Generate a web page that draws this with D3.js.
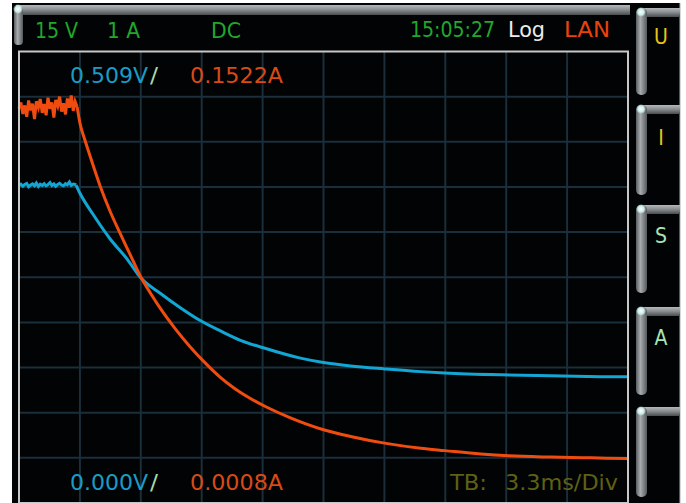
<!DOCTYPE html>
<html>
<head>
<meta charset="utf-8">
<script src="https://cdn.jsdelivr.net/npm/d3@7"></script>
<style>
  body { margin: 0; background: #fff; }
  svg { display: block; }
  text { font-family: "DejaVu Sans", sans-serif; font-stretch: condensed; }
</style>
</head>
<body>
<script>
var width = 686,
    height = 503;

// time base: 3.3 ms/div, 10 divisions
var timeTicks = [0, 3.3, 6.6, 9.9, 13.2, 16.5, 19.8, 23.1, 26.4, 29.7, 33];
var levelTicks = [0, 1, 2, 3, 4, 5, 6, 7, 8, 9, 10];

// flat part before the load step (shared sample times, ms)
var flatMs = [0, 0.10, 0.21, 0.31, 0.42, 0.52, 0.63, 0.73, 0.84, 0.94, 1.05, 1.15, 1.26, 1.36, 1.47,
              1.57, 1.68, 1.78, 1.89, 1.99, 2.10, 2.20, 2.31, 2.41, 2.52, 2.62, 2.73, 2.83, 2.94, 3.04];
var curFlatA = [0.1530, 0.1552, 0.1508, 0.1541, 0.1497, 0.1560, 0.1522, 0.1548, 0.1488, 0.1557,
                0.1533, 0.1566, 0.1512, 0.1546, 0.1503, 0.1571, 0.1528, 0.1553, 0.1494, 0.1562,
                0.1539, 0.1575, 0.1517, 0.1549, 0.1506, 0.1568, 0.1532, 0.1580, 0.1520, 0.1556];
var voltFlatV = [0.5068, 0.5085, 0.5052, 0.5079, 0.5096, 0.5044, 0.5071, 0.5088, 0.5060, 0.5102,
                 0.5049, 0.5083, 0.5066, 0.5094, 0.5057, 0.5077, 0.5110, 0.5063, 0.5089, 0.5051,
                 0.5081, 0.5099, 0.5070, 0.5058, 0.5092, 0.5075, 0.5118, 0.5066, 0.5087, 0.5079];

// decay after the step
var curDecayMs = [3.15, 3.31, 3.58, 3.85, 4.40, 4.94, 5.48, 6.03, 6.57, 7.11, 7.65, 8.47, 9.28, 10.10,
                  10.91, 11.72, 12.54, 13.35, 14.71, 16.50, 17.97, 19.81, 21.77, 23.07, 25.02, 26.54,
                  28.82, 30.99, 33.0];
var curDecayA = [0.1535, 0.1470, 0.1405, 0.1345, 0.1228, 0.1130, 0.1045, 0.0962, 0.0880, 0.0815,
                 0.0755, 0.0675, 0.0605, 0.0542, 0.0487, 0.0442, 0.0405, 0.0374, 0.0330, 0.0284,
                 0.0258, 0.0232, 0.0212, 0.0203, 0.0190, 0.0183, 0.0178, 0.0175, 0.0172];
var voltDecayMs = [3.09, 3.31, 4.02, 4.94, 5.86, 6.57, 7.65, 8.74, 9.82, 10.91, 12.00, 13.24, 15.25,
                   16.50, 17.97, 19.81, 21.77, 23.07, 26.11, 28.82, 31.54, 33.0];
var voltDecayV = [0.5070, 0.4935, 0.4600, 0.4210, 0.3890, 0.3600, 0.3345, 0.3115, 0.2910, 0.2745,
                  0.2595, 0.2475, 0.2310, 0.2240, 0.2185, 0.2138, 0.2095, 0.2075, 0.2045, 0.2028,
                  0.2014, 0.2012];

var x = d3.scaleLinear().domain([0, 33]).range([19, 628]);
var yDiv = d3.scaleLinear().domain([0, 10]).range([503, 51.5]);
var yV = d3.scaleLinear().domain([0, 0.72]).range([503, 51.5]);
var yA = d3.scaleLinear().domain([0, 0.175]).range([503, 51.5]);

var svg = d3.select("body").append("svg")
    .attr("width", width)
    .attr("height", height);

var defs = svg.append("defs");

// gradients for the bevelled soft-key frames
var gv = defs.append("linearGradient").attr("id", "barV").attr("x1", 0).attr("x2", 1).attr("y1", 0).attr("y2", 0);
gv.append("stop").attr("offset", "0%").attr("stop-color", "#5a5e60");
gv.append("stop").attr("offset", "40%").attr("stop-color", "#a8acae");
gv.append("stop").attr("offset", "100%").attr("stop-color", "#56595b");
var gh = defs.append("linearGradient").attr("id", "barH").attr("x1", 0).attr("x2", 0).attr("y1", 0).attr("y2", 1);
gh.append("stop").attr("offset", "0%").attr("stop-color", "#b4b8ba");
gh.append("stop").attr("offset", "45%").attr("stop-color", "#8c9092");
gh.append("stop").attr("offset", "100%").attr("stop-color", "#4a4d4f");
var gl = defs.append("radialGradient").attr("id", "glow");
gl.append("stop").attr("offset", "0%").attr("stop-color", "#ffffff");
gl.append("stop").attr("offset", "60%").attr("stop-color", "#c8ece8");
gl.append("stop").attr("offset", "100%").attr("stop-color", "#c8ece8").attr("stop-opacity", 0);

// screen
svg.append("rect").attr("x", 12).attr("y", 3).attr("width", 668).attr("height", 502).attr("fill", "#020304");
svg.append("line").attr("x1", 680).attr("x2", 680).attr("y1", 3).attr("y2", 503)
    .attr("stroke", "#b0b0b0").attr("stroke-width", 1);

// status bar bevel
svg.append("rect").attr("x", 16).attr("y", 5).attr("width", 614).attr("height", 10).attr("fill", "url(#barH)");
svg.append("rect").attr("x", 14).attr("y", 7).attr("width", 9).attr("height", 38).attr("rx", 4).attr("fill", "url(#barV)");
svg.append("circle").attr("cx", 18).attr("cy", 9).attr("r", 5).attr("fill", "url(#glow)");

// soft keys on the right
var keys = [
    { top: 8, bottom: 95, label: "U", color: "#e8c418", ty: 44 },
    { top: 105, bottom: 195, label: "I", color: "#e8c418", ty: 145 },
    { top: 205, bottom: 293, label: "S", color: "#a8e4b4", ty: 243 },
    { top: 307, bottom: 395, label: "A", color: "#a8e4b4", ty: 345 },
    { top: 407, bottom: 497, label: "", color: "#a8e4b4", ty: 445 }
];
var key = svg.selectAll(".key").data(keys).enter().append("g").attr("class", "key");
key.append("rect").attr("x", 640).attr("y", function (d) { return d.top; })
    .attr("width", 40).attr("height", 9).attr("fill", "url(#barH)");
key.append("rect").attr("x", 636).attr("y", function (d) { return d.top; })
    .attr("width", 11).attr("height", function (d) { return d.bottom - d.top; })
    .attr("rx", 5).attr("fill", "url(#barV)");
key.append("circle").attr("cx", 641).attr("cy", function (d) { return d.top + 4; })
    .attr("r", 5).attr("fill", "url(#glow)");
key.append("text").attr("x", 661).attr("y", function (d) { return d.ty; })
    .attr("text-anchor", "middle").attr("font-size", 21)
    .attr("fill", function (d) { return d.color; })
    .text(function (d) { return d.label; });

// grid
var grid = svg.append("g").attr("stroke", "#1a2e3b").attr("stroke-width", 2);
grid.selectAll(".vx").data(timeTicks.slice(1, 10)).enter().append("line")
    .attr("x1", function (d) { return x(d); }).attr("x2", function (d) { return x(d); })
    .attr("y1", yDiv(10)).attr("y2", yDiv(0));
grid.selectAll(".hy").data(levelTicks.slice(1, 10)).enter().append("line")
    .attr("y1", function (d) { return yDiv(d); }).attr("y2", function (d) { return yDiv(d); })
    .attr("x1", x(0)).attr("x2", x(33));

// traces: noisy plateau drawn straight, decay smoothed
function trace(flatVals, decMs, decVals, yScale, color) {
    var flat = flatMs.map(function (t, i) { return [t, flatVals[i]]; });
    var dec = decMs.map(function (t, i) { return [t, decVals[i]]; });
    var g = svg.append("g").attr("fill", "none").attr("stroke", color).attr("stroke-width", 3);
    g.append("path").datum(flat.concat([dec[0]]))
        .attr("d", d3.line().x(function (d) { return x(d[0]); }).y(function (d) { return yScale(d[1]); }));
    g.append("path").datum(dec)
        .attr("d", d3.line().curve(d3.curveMonotoneX)
            .x(function (d) { return x(d[0]); }).y(function (d) { return yScale(d[1]); }));
}
trace(voltFlatV, voltDecayMs, voltDecayV, yV, "#12a6d4");
trace(curFlatA, curDecayMs, curDecayA, yA, "#f04c10");

// frame
svg.append("rect").attr("x", x(0)).attr("y", yDiv(10)).attr("width", x(33) - x(0))
    .attr("height", yDiv(0) - yDiv(10)).attr("fill", "none")
    .attr("stroke", "#c8c8c8").attr("stroke-width", 2);

// texts
var labels = [
    { t: "15 V", x: 35, y: 38, w: 43, c: "#20a82c" },
    { t: "1 A", x: 107, y: 38, w: 33, c: "#20a82c" },
    { t: "DC", x: 211, y: 38, w: 30, c: "#20a82c" },
    { t: "15:05:27", x: 410, y: 37, w: 85, c: "#20a82c" },
    { t: "Log", x: 508, y: 37, w: 37, c: "#ececec" },
    { t: "LAN", x: 564, y: 37, w: 46, c: "#e8420e" },
    { t: "0.509V", x: 70, y: 83, w: 78, c: "#1a9cc6" },
    { t: "/", x: 150, y: 83, w: 8, c: "#a6d8a6" },
    { t: "0.1522A", x: 190, y: 83, w: 93, c: "#d84a16" },
    { t: "0.000V", x: 70, y: 490, w: 78, c: "#1a9cc6" },
    { t: "/", x: 150, y: 490, w: 8, c: "#a6d8a6" },
    { t: "0.0008A", x: 190, y: 490, w: 93, c: "#d84a16" },
    { t: "TB:", x: 450, y: 490, w: 37, c: "#5e6014" },
    { t: "3.3ms/Div", x: 505, y: 490, w: 113, c: "#5e6014" }
];
svg.selectAll(".lbl").data(labels).enter().append("text")
    .attr("class", "lbl")
    .attr("x", function (d) { return d.x; })
    .attr("y", function (d) { return d.y; })
    .attr("font-size", 22)
    .attr("textLength", function (d) { return d.w; })
    .attr("lengthAdjust", "spacingAndGlyphs")
    .attr("fill", function (d) { return d.c; })
    .text(function (d) { return d.t; });
</script>
</body>
</html>
